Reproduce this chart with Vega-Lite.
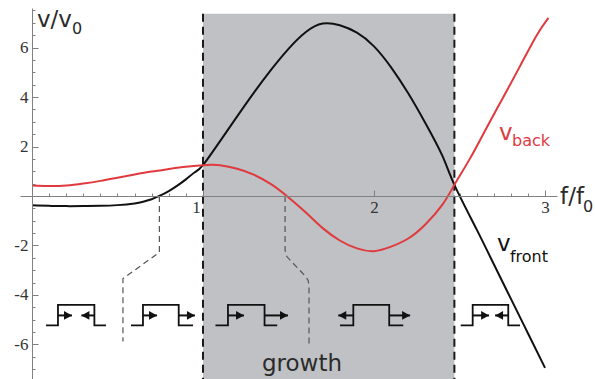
{
  "$schema": "https://vega.github.io/schema/vega-lite/v6.json",
  "width": 537,
  "height": 371,
  "autosize": {"type": "none"},
  "padding": {"left": 20, "top": 8, "right": 38, "bottom": 0},
  "background": "white",
  "config": {
    "view": {"stroke": null},
    "axis": {"grid": false, "title": null, "domainColor": "#808080", "tickColor": "#808080", "tickWidth": 1, "domainWidth": 1, "labelFont": "Liberation Serif", "labelFontSize": 17, "labelColor": "#333333", "labelFlush": false, "labelOverlap": false, "labelBound": false, "zindex": 2}
  },
  "resolve": {"axis": {"x": "independent", "y": "independent"}},
  "datasets": {
    "region": [{"a": 1.0, "b": 2.47, "top": 7.37, "bot": -7.4}],
    "bounds": [{"x": 1.0, "top": 7.37, "bot": -7.4}, {"x": 2.47, "top": 7.37, "bot": -7.4}],
    "leaders": [
      {"g": "a", "o": 1, "x": 0.745, "y": 0},
      {"g": "a", "o": 2, "x": 0.745, "y": -2.28},
      {"g": "a", "o": 3, "x": 0.532, "y": -3.34},
      {"g": "a", "o": 4, "x": 0.532, "y": -5.88},
      {"g": "b", "o": 1, "x": 1.48, "y": 0},
      {"g": "b", "o": 2, "x": 1.48, "y": -2.2},
      {"g": "b", "o": 3, "x": 1.49, "y": -2.45},
      {"g": "b", "o": 4, "x": 1.6, "y": -3.25},
      {"g": "b", "o": 5, "x": 1.615, "y": -3.42},
      {"g": "b", "o": 6, "x": 1.62, "y": -3.65},
      {"g": "b", "o": 7, "x": 1.62, "y": -6.07}
    ],
    "curves": [
      {"s": "front", "x": 0.0, "y": -0.38},
      {"s": "front", "x": 0.1, "y": -0.4},
      {"s": "front", "x": 0.2, "y": -0.41},
      {"s": "front", "x": 0.3, "y": -0.41},
      {"s": "front", "x": 0.4, "y": -0.4},
      {"s": "front", "x": 0.5, "y": -0.37},
      {"s": "front", "x": 0.6, "y": -0.3},
      {"s": "front", "x": 0.65, "y": -0.23},
      {"s": "front", "x": 0.7, "y": -0.13},
      {"s": "front", "x": 0.745, "y": 0.0},
      {"s": "front", "x": 0.8, "y": 0.2},
      {"s": "front", "x": 0.85, "y": 0.42},
      {"s": "front", "x": 0.9, "y": 0.67},
      {"s": "front", "x": 0.95, "y": 0.95},
      {"s": "front", "x": 1.0, "y": 1.25},
      {"s": "front", "x": 1.1, "y": 2.22},
      {"s": "front", "x": 1.2, "y": 3.22},
      {"s": "front", "x": 1.3, "y": 4.2},
      {"s": "front", "x": 1.4, "y": 5.12},
      {"s": "front", "x": 1.5, "y": 5.95},
      {"s": "front", "x": 1.6, "y": 6.62},
      {"s": "front", "x": 1.7, "y": 6.97},
      {"s": "front", "x": 1.8, "y": 6.9},
      {"s": "front", "x": 1.9, "y": 6.6},
      {"s": "front", "x": 2.0, "y": 6.05},
      {"s": "front", "x": 2.1, "y": 5.2},
      {"s": "front", "x": 2.2, "y": 4.15},
      {"s": "front", "x": 2.3, "y": 2.95},
      {"s": "front", "x": 2.4, "y": 1.62},
      {"s": "front", "x": 2.47, "y": 0.45},
      {"s": "front", "x": 2.6, "y": -1.35},
      {"s": "front", "x": 2.7, "y": -2.75},
      {"s": "front", "x": 2.8, "y": -4.15},
      {"s": "front", "x": 2.9, "y": -5.55},
      {"s": "front", "x": 3.0, "y": -6.95},
      {"s": "back", "x": 0.0, "y": 0.42},
      {"s": "back", "x": 0.1, "y": 0.4},
      {"s": "back", "x": 0.2, "y": 0.42},
      {"s": "back", "x": 0.3, "y": 0.5},
      {"s": "back", "x": 0.4, "y": 0.61},
      {"s": "back", "x": 0.5, "y": 0.74},
      {"s": "back", "x": 0.6, "y": 0.87},
      {"s": "back", "x": 0.7, "y": 0.99},
      {"s": "back", "x": 0.8, "y": 1.09},
      {"s": "back", "x": 0.9, "y": 1.18},
      {"s": "back", "x": 1.0, "y": 1.24},
      {"s": "back", "x": 1.05, "y": 1.26},
      {"s": "back", "x": 1.1, "y": 1.24},
      {"s": "back", "x": 1.2, "y": 1.1},
      {"s": "back", "x": 1.3, "y": 0.85},
      {"s": "back", "x": 1.4, "y": 0.47},
      {"s": "back", "x": 1.49, "y": 0.0},
      {"s": "back", "x": 1.6, "y": -0.66},
      {"s": "back", "x": 1.7, "y": -1.3},
      {"s": "back", "x": 1.8, "y": -1.8},
      {"s": "back", "x": 1.9, "y": -2.12},
      {"s": "back", "x": 2.0, "y": -2.23},
      {"s": "back", "x": 2.1, "y": -2.05},
      {"s": "back", "x": 2.2, "y": -1.72},
      {"s": "back", "x": 2.3, "y": -1.15},
      {"s": "back", "x": 2.4, "y": -0.35},
      {"s": "back", "x": 2.47, "y": 0.45},
      {"s": "back", "x": 2.56, "y": 1.5},
      {"s": "back", "x": 2.65, "y": 2.65},
      {"s": "back", "x": 2.75, "y": 3.92},
      {"s": "back", "x": 2.85, "y": 5.2},
      {"s": "back", "x": 2.95, "y": 6.48},
      {"s": "back", "x": 3.02, "y": 7.2}
    ],
    "icons": [
      {"g": "i1", "o": 1, "x": 0.082, "y": -5.23}, {"g": "i1", "o": 2, "x": 0.152, "y": -5.23}, {"g": "i1", "o": 3, "x": 0.152, "y": -4.4}, {"g": "i1", "o": 4, "x": 0.365, "y": -4.4}, {"g": "i1", "o": 5, "x": 0.365, "y": -5.23}, {"g": "i1", "o": 6, "x": 0.433, "y": -5.23},
      {"g": "i2", "o": 1, "x": 0.579, "y": -5.23}, {"g": "i2", "o": 2, "x": 0.649, "y": -5.23}, {"g": "i2", "o": 3, "x": 0.649, "y": -4.4}, {"g": "i2", "o": 4, "x": 0.858, "y": -4.4}, {"g": "i2", "o": 5, "x": 0.858, "y": -5.23}, {"g": "i2", "o": 6, "x": 0.942, "y": -5.23},
      {"g": "i3", "o": 1, "x": 1.073, "y": -5.23}, {"g": "i3", "o": 2, "x": 1.146, "y": -5.23}, {"g": "i3", "o": 3, "x": 1.146, "y": -4.4}, {"g": "i3", "o": 4, "x": 1.36, "y": -4.4}, {"g": "i3", "o": 5, "x": 1.36, "y": -5.23}, {"g": "i3", "o": 6, "x": 1.434, "y": -5.23},
      {"g": "i4", "o": 1, "x": 1.801, "y": -5.23}, {"g": "i4", "o": 2, "x": 1.879, "y": -5.23}, {"g": "i4", "o": 3, "x": 1.879, "y": -4.4}, {"g": "i4", "o": 4, "x": 2.089, "y": -4.4}, {"g": "i4", "o": 5, "x": 2.089, "y": -5.23}, {"g": "i4", "o": 6, "x": 2.171, "y": -5.23},
      {"g": "i5", "o": 1, "x": 2.507, "y": -5.23}, {"g": "i5", "o": 2, "x": 2.577, "y": -5.23}, {"g": "i5", "o": 3, "x": 2.577, "y": -4.4}, {"g": "i5", "o": 4, "x": 2.785, "y": -4.4}, {"g": "i5", "o": 5, "x": 2.785, "y": -5.23}, {"g": "i5", "o": 6, "x": 2.854, "y": -5.23}
    ],
    "arrows": [
      {"from": 0.152, "tip": 0.234, "y": -4.83, "dir": "right"},
      {"from": 0.365, "tip": 0.289, "y": -4.83, "dir": "left"},
      {"from": 0.649, "tip": 0.731, "y": -4.83, "dir": "right"},
      {"from": 0.858, "tip": 0.953, "y": -4.83, "dir": "right"},
      {"from": 1.146, "tip": 1.24, "y": -4.83, "dir": "right"},
      {"from": 1.36, "tip": 1.497, "y": -4.83, "dir": "right"},
      {"from": 1.879, "tip": 1.791, "y": -4.83, "dir": "left"},
      {"from": 2.089, "tip": 2.211, "y": -4.83, "dir": "right"},
      {"from": 2.577, "tip": 2.673, "y": -4.83, "dir": "right"},
      {"from": 2.785, "tip": 2.708, "y": -4.83, "dir": "left"}
    ],
    "bigText": [
      {"t": "v", "s": "back", "x": 2.731, "y": 2.28},
      {"t": "v", "s": "front", "x": 2.719, "y": -2.24},
      {"t": "v/v", "s": "axis", "x": 0.029, "y": 6.85},
      {"t": "f/f", "s": "axis", "x": 3.088, "y": -0.34},
      {"t": "growth", "s": "axis", "x": 1.345, "y": -7.09}
    ],
    "subText": [
      {"t": "back", "s": "back", "x": 2.807, "y": 2.04},
      {"t": "front", "s": "front", "x": 2.795, "y": -2.65},
      {"t": "0", "s": "axis", "x": 0.234, "y": 6.53},
      {"t": "0", "s": "axis", "x": 3.222, "y": -0.63}
    ]
  },
  "layer": [
    {
      "data": {"name": "region"},
      "mark": {"type": "rect", "fill": "#bfc1c4", "stroke": null},
      "encoding": {
        "x": {"field": "a", "type": "quantitative",
          "scale": {"domain": [-0.07, 3.07], "nice": false, "zero": false},
          "axis": {
            "orient": "bottom", "offset": -183, "domain": false, "labels": false,
            "values": [0.1,0.2,0.3,0.4,0.5,0.6,0.7,0.8,0.9,1.1,1.2,1.3,1.4,1.5,1.6,1.7,1.8,1.9,2.1,2.2,2.3,2.4,2.5,2.6,2.7,2.8,2.9],
            "tickSize": -3
          }},
        "x2": {"field": "b"},
        "y": {"field": "top", "type": "quantitative",
          "scale": {"domain": [-7.4, 7.6], "nice": false, "zero": false},
          "axis": {
            "orient": "left", "offset": -12, "domain": false, "labels": false,
            "values": [-6.5,-5.5,-5,-4.5,-3.5,-3,-2.5,-1.5,-1,-0.5,0.5,1,1.5,2.5,3,3.5,4.5,5,5.5,6.5,7,7.5,-7],
            "tickSize": -3
          }},
        "y2": {"field": "bot"}
      }
    },
    {
      "data": {"name": "bounds"},
      "mark": {"type": "rule", "stroke": "#1a1a1a", "strokeWidth": 2, "strokeDash": [8, 5]},
      "encoding": {
        "x": {"field": "x", "type": "quantitative",
          "axis": {
            "orient": "bottom", "offset": -183,
            "values": [1, 2, 3],
            "labelExpr": "'' + datum.value",
            "labelOffset": {"condition": {"test": "datum.value == 1", "value": -7}, "value": 0},
            "tickSize": -6,
            "labelPadding": 9,
            "labelOverlap": false,
            "zindex": 3
          }},
        "y": {"field": "top", "type": "quantitative",
          "axis": {
            "orient": "left", "offset": -12,
            "values": [-6, -4, -2, 2, 4, 6],
            "labelExpr": "'' + datum.value",
            "tickSize": -6,
            "labelPadding": 10,
            "labelOverlap": false,
            "zindex": 3
          }},
        "y2": {"field": "bot"}
      }
    },
    {
      "data": {"name": "leaders"},
      "mark": {"type": "line", "stroke": "#555555", "strokeWidth": 1.2, "strokeDash": [6, 4]},
      "encoding": {
        "x": {"field": "x", "type": "quantitative", "axis": null},
        "y": {"field": "y", "type": "quantitative", "axis": null},
        "detail": {"field": "g"},
        "order": {"field": "o"}
      }
    },
    {
      "data": {"name": "curves"},
      "mark": {"type": "line", "strokeWidth": 2, "interpolate": "natural"},
      "encoding": {
        "x": {"field": "x", "type": "quantitative", "axis": null},
        "y": {"field": "y", "type": "quantitative", "axis": null},
        "color": {"field": "s", "type": "nominal", "scale": {"domain": ["back", "front", "axis"], "range": ["#e0393e", "#111111", "#2b2b2b"]}, "legend": null},
        "order": {"field": "x"}
      }
    },
    {
      "data": {"name": "icons"},
      "mark": {"type": "line", "stroke": "#111111", "strokeWidth": 1.8},
      "encoding": {
        "x": {"field": "x", "type": "quantitative", "axis": null},
        "y": {"field": "y", "type": "quantitative", "axis": null},
        "detail": {"field": "g"},
        "order": {"field": "o"}
      }
    },
    {
      "data": {"name": "arrows"},
      "mark": {"type": "rule", "stroke": "#111111", "strokeWidth": 2},
      "encoding": {
        "x": {"field": "from", "type": "quantitative", "axis": null},
        "x2": {"field": "tip"},
        "y": {"field": "y", "type": "quantitative", "axis": null}
      }
    },
    {
      "data": {"name": "arrows"},
      "mark": {"type": "point", "filled": true, "fill": "#111111", "stroke": null, "opacity": 1, "size": 256},
      "encoding": {
        "x": {"field": "tip", "type": "quantitative", "axis": null},
        "y": {"field": "y", "type": "quantitative", "axis": null},
        "shape": {"field": "dir", "type": "nominal", "scale": {"domain": ["right", "left"], "range": ["M0,0L-1,-0.55L-1,0.55Z", "M0,0L1,-0.55L1,0.55Z"]}, "legend": null}
      }
    },
    {
      "data": {"name": "bigText"},
      "mark": {"type": "text", "font": "DejaVu Sans", "fontSize": 23, "align": "left", "baseline": "alphabetic"},
      "encoding": {
        "x": {"field": "x", "type": "quantitative", "axis": null},
        "y": {"field": "y", "type": "quantitative", "axis": null},
        "text": {"field": "t"},
        "color": {"field": "s", "type": "nominal", "legend": null}
      }
    },
    {
      "data": {"name": "subText"},
      "mark": {"type": "text", "font": "DejaVu Sans", "fontSize": 16, "align": "left", "baseline": "alphabetic"},
      "encoding": {
        "x": {"field": "x", "type": "quantitative", "axis": null},
        "y": {"field": "y", "type": "quantitative", "axis": null},
        "text": {"field": "t"},
        "color": {"field": "s", "type": "nominal", "legend": null}
      }
    }
  ]
}
